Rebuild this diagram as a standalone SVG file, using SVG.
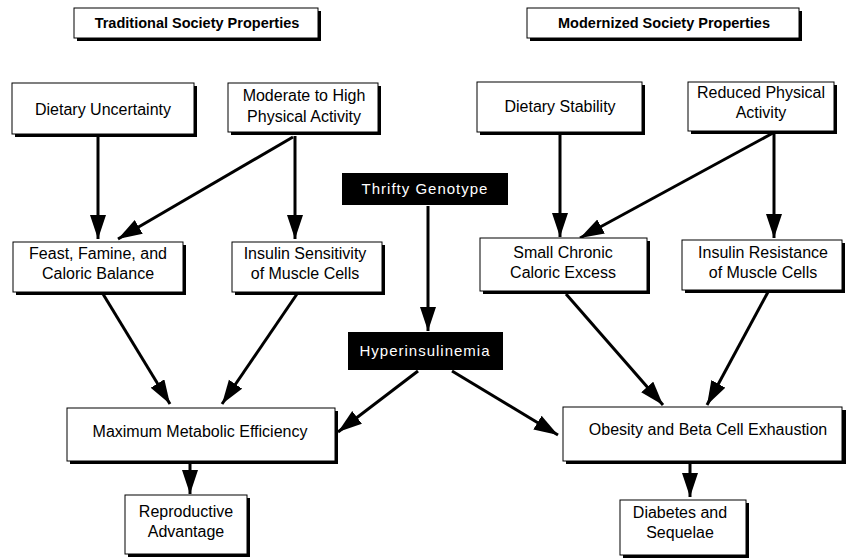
<svg xmlns="http://www.w3.org/2000/svg" width="846" height="559" viewBox="0 0 846 559">
<defs>
<marker id="ah" markerUnits="userSpaceOnUse" markerWidth="26" markerHeight="17" refX="24" refY="8" orient="auto">
<path d="M0,0 L24,8 L0,16 z" fill="#000"/>
</marker>
<style>
.sh{fill:#000}
.bx{fill:#fff;stroke:#000;stroke-width:1}
.dk{fill:#000}
.t{font-family:"Liberation Sans",Arial,sans-serif;font-size:16px;fill:#000;text-anchor:middle}
.h{font-family:"Liberation Sans",Arial,sans-serif;font-size:14.5px;font-weight:bold;fill:#000;text-anchor:middle}
.w{font-family:"Liberation Sans",Arial,sans-serif;font-size:15px;fill:#fff;text-anchor:middle;letter-spacing:1px}
.c{stroke:#000;stroke-width:3;fill:none;marker-end:url(#ah)}
</style>
</defs>
<rect width="846" height="559" fill="#fff"/>

<g id="connectors">
<line class="c" x1="98" y1="136" x2="98" y2="239"/>
<line class="c" x1="293" y1="137" x2="118" y2="239"/>
<line class="c" x1="295" y1="136" x2="295" y2="239"/>
<line class="c" x1="560" y1="134" x2="560" y2="237"/>
<line class="c" x1="773" y1="133" x2="580" y2="238"/>
<line class="c" x1="774" y1="133" x2="774" y2="238"/>
<line class="c" x1="428" y1="206" x2="428" y2="331"/>
<line class="c" x1="103" y1="294" x2="170" y2="404"/>
<line class="c" x1="297" y1="294" x2="222" y2="404"/>
<line class="c" x1="418" y1="371" x2="338" y2="432"/>
<line class="c" x1="452" y1="371" x2="558" y2="435"/>
<line class="c" x1="566" y1="294" x2="663" y2="405"/>
<line class="c" x1="768" y1="292" x2="707" y2="405"/>
<line class="c" x1="190" y1="464" x2="190" y2="494"/>
<line class="c" x1="690" y1="464" x2="690" y2="497"/>
</g>

<g id="traditional">
<rect class="sh" x="77" y="11" width="244" height="30"/>
<rect class="bx" x="74" y="8" width="244" height="30"/>
<text class="h" x="197" y="28">Traditional Society Properties</text>
</g>
<g id="modernized">
<rect class="sh" x="530" y="11" width="272" height="30"/>
<rect class="bx" x="527" y="8" width="272" height="30"/>
<text class="h" x="664" y="28">Modernized Society Properties</text>
</g>

<g id="dietary-uncertainty">
<rect class="sh" x="15" y="86" width="182" height="51"/>
<rect class="bx" x="12" y="83" width="182" height="51"/>
<text class="t" x="103" y="115">Dietary Uncertainty</text>
</g>
<g id="moderate-activity">
<rect class="sh" x="231" y="86" width="150" height="49"/>
<rect class="bx" x="228" y="83" width="150" height="49"/>
<text class="t" x="304" y="101">Moderate to High</text>
<text class="t" x="304" y="122">Physical Activity</text>
</g>
<g id="dietary-stability">
<rect class="sh" x="480" y="85" width="165" height="50"/>
<rect class="bx" x="477" y="82" width="165" height="50"/>
<text class="t" x="560" y="112">Dietary Stability</text>
</g>
<g id="reduced-activity">
<rect class="sh" x="691" y="85" width="146" height="49"/>
<rect class="bx" x="688" y="82" width="146" height="49"/>
<text class="t" x="761" y="98">Reduced Physical</text>
<text class="t" x="761" y="118">Activity</text>
</g>

<g id="feast-famine">
<rect class="sh" x="16" y="245" width="170" height="50"/>
<rect class="bx" x="13" y="242" width="170" height="50"/>
<text class="t" x="98" y="259">Feast, Famine, and</text>
<text class="t" x="98" y="279">Caloric Balance</text>
</g>
<g id="insulin-sensitivity">
<rect class="sh" x="235" y="245" width="150" height="50"/>
<rect class="bx" x="232" y="242" width="150" height="50"/>
<text class="t" x="305" y="259">Insulin Sensitivity</text>
<text class="t" x="305" y="279">of Muscle Cells</text>
</g>
<g id="small-chronic">
<rect class="sh" x="483" y="241" width="167" height="53"/>
<rect class="bx" x="480" y="238" width="167" height="53"/>
<text class="t" x="563" y="258">Small Chronic</text>
<text class="t" x="563" y="278">Caloric Excess</text>
</g>
<g id="insulin-resistance">
<rect class="sh" x="685" y="243" width="160" height="50"/>
<rect class="bx" x="682" y="240" width="160" height="50"/>
<text class="t" x="763" y="258">Insulin Resistance</text>
<text class="t" x="763" y="278">of Muscle Cells</text>
</g>

<g id="thrifty-genotype">
<rect class="dk" x="342" y="173" width="166" height="32"/>
<text class="w" x="425" y="194">Thrifty Genotype</text>
</g>
<g id="hyperinsulinemia">
<rect class="dk" x="348" y="332" width="155" height="38"/>
<text class="w" x="425" y="356">Hyperinsulinemia</text>
</g>

<g id="max-efficiency">
<rect class="sh" x="70" y="411" width="268" height="53"/>
<rect class="bx" x="67" y="408" width="268" height="53"/>
<text class="t" x="200" y="437">Maximum Metabolic Efficiency</text>
</g>
<g id="obesity">
<rect class="sh" x="566" y="410" width="280" height="54"/>
<rect class="bx" x="563" y="407" width="279" height="54"/>
<text class="t" x="708" y="435">Obesity and Beta Cell Exhaustion</text>
</g>

<g id="reproductive">
<rect class="sh" x="128" y="498" width="122" height="59"/>
<rect class="bx" x="125" y="495" width="122" height="59"/>
<text class="t" x="186" y="517">Reproductive</text>
<text class="t" x="186" y="537">Advantage</text>
</g>
<g id="diabetes">
<rect class="sh" x="623" y="503" width="126" height="55"/>
<rect class="bx" x="620" y="500" width="126" height="55"/>
<text class="t" x="680" y="518">Diabetes and</text>
<text class="t" x="680" y="538">Sequelae</text>
</g>
</svg>
